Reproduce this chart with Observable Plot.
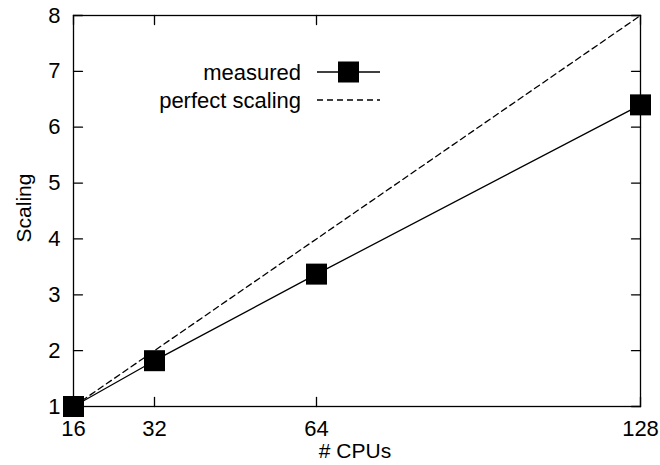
<!DOCTYPE html>
<html>
<head>
<meta charset="utf-8">
<script src="https://cdn.jsdelivr.net/npm/d3@7"></script>
<script src="https://cdn.jsdelivr.net/npm/@observablehq/plot@0.6"></script>
<style>
  html, body { margin: 0; padding: 0; background: #fff; }
  svg { display: block; }
</style>
</head>
<body>
<div id="chart"></div>
<script>
// Data
const cpus = [16, 32, 64, 128];
const measured = [1, 1.82, 3.37, 6.4];
const perfectCpus = [16, 128];
const perfectScaling = [1, 8];
const xTicks = [16, 32, 64, 128];
const yTicks = [1, 2, 3, 4, 5, 6, 7, 8];
const seriesNames = ["measured", "perfect scaling"];
const xLabel = "# CPUs";
const yLabel = "Scaling";

const measuredData = cpus.map((c, i) => ({x: c, y: measured[i]}));
const perfectData = perfectCpus.map((c, i) => ({x: c, y: perfectScaling[i]}));

const FONT = "Liberation Sans, Arial, Helvetica, sans-serif";
const FS = 21;
const FS_TICK = 22;
const FS_LEG = 22;
const SW = 1.3;
const tickShape = {draw(context, l) { context.moveTo(0, 0); context.lineTo(0, -l); }};

const chart = Plot.plot({
  width: 660,
  height: 465,
  marginLeft: 73,
  marginRight: 20,
  marginTop: 15,
  marginBottom: 59,
  style: {fontFamily: FONT, fontSize: FS + "px", color: "#000", background: "#fff"},
  x: {type: "linear", domain: [16, 128]},
  y: {type: "linear", domain: [1, 8]},
  marks: [
    Plot.line(perfectData, {x: "x", y: "y", stroke: "#000", strokeWidth: SW, strokeDasharray: "6,4"}),
    Plot.line(measuredData, {x: "x", y: "y", stroke: "#000", strokeWidth: SW}),
    Plot.dot(measuredData, {x: "x", y: "y", symbol: "square", r: 11.85, fill: "#000", stroke: null}),
    // inward ticks on all four sides
    Plot.vector(xTicks, {x: d => d, y: 1, length: 9, rotate: 0, anchor: "start", shape: tickShape, stroke: "#000", strokeWidth: SW}),
    Plot.vector(xTicks, {x: d => d, y: 8, length: 9, rotate: 180, anchor: "start", shape: tickShape, stroke: "#000", strokeWidth: SW}),
    Plot.vector(yTicks, {x: 16, y: d => d, length: 9, rotate: 90, anchor: "start", shape: tickShape, stroke: "#000", strokeWidth: SW}),
    Plot.vector(yTicks, {x: 128, y: d => d, length: 9, rotate: -90, anchor: "start", shape: tickShape, stroke: "#000", strokeWidth: SW}),
    Plot.frame({stroke: "#000", strokeWidth: SW}),
    Plot.axisX(xTicks, {anchor: "bottom", tickSize: 0, tickPadding: 14, label: null, fontSize: FS_TICK, tickFormat: d => String(d)}),
    Plot.axisY(yTicks, {anchor: "left", tickSize: 0, tickPadding: 13, label: null, fontSize: FS_TICK, tickFormat: d => String(d)})
  ]
});

document.getElementById("chart").appendChild(chart);

// Axis titles and legend
const svg = d3.select(chart);
svg.append("text")
  .attr("x", 355).attr("y", 458)
  .attr("text-anchor", "middle")
  .attr("font-family", FONT).attr("font-size", FS)
  .attr("fill", "#000")
  .text(xLabel);
svg.append("text")
  .attr("transform", "translate(31,208) rotate(-90)")
  .attr("text-anchor", "middle")
  .attr("font-family", FONT).attr("font-size", FS)
  .attr("fill", "#000")
  .text(yLabel);

const leg = svg.append("g");
// measured
leg.append("text")
  .attr("x", 301).attr("y", 79.5)
  .attr("text-anchor", "end")
  .attr("font-family", FONT).attr("font-size", FS_LEG)
  .attr("fill", "#000")
  .text(seriesNames[0]);
leg.append("line")
  .attr("x1", 317).attr("x2", 380).attr("y1", 72).attr("y2", 72)
  .attr("stroke", "#000").attr("stroke-width", SW);
leg.append("rect")
  .attr("x", 338).attr("y", 61.5).attr("width", 21).attr("height", 21)
  .attr("fill", "#000");
// perfect scaling
leg.append("text")
  .attr("x", 301).attr("y", 107.5)
  .attr("text-anchor", "end")
  .attr("font-family", FONT).attr("font-size", FS_LEG)
  .attr("fill", "#000")
  .text(seriesNames[1]);
leg.append("line")
  .attr("x1", 317).attr("x2", 380).attr("y1", 100).attr("y2", 100)
  .attr("stroke", "#000").attr("stroke-width", SW)
  .attr("stroke-dasharray", "6,4");
</script>
</body>
</html>
